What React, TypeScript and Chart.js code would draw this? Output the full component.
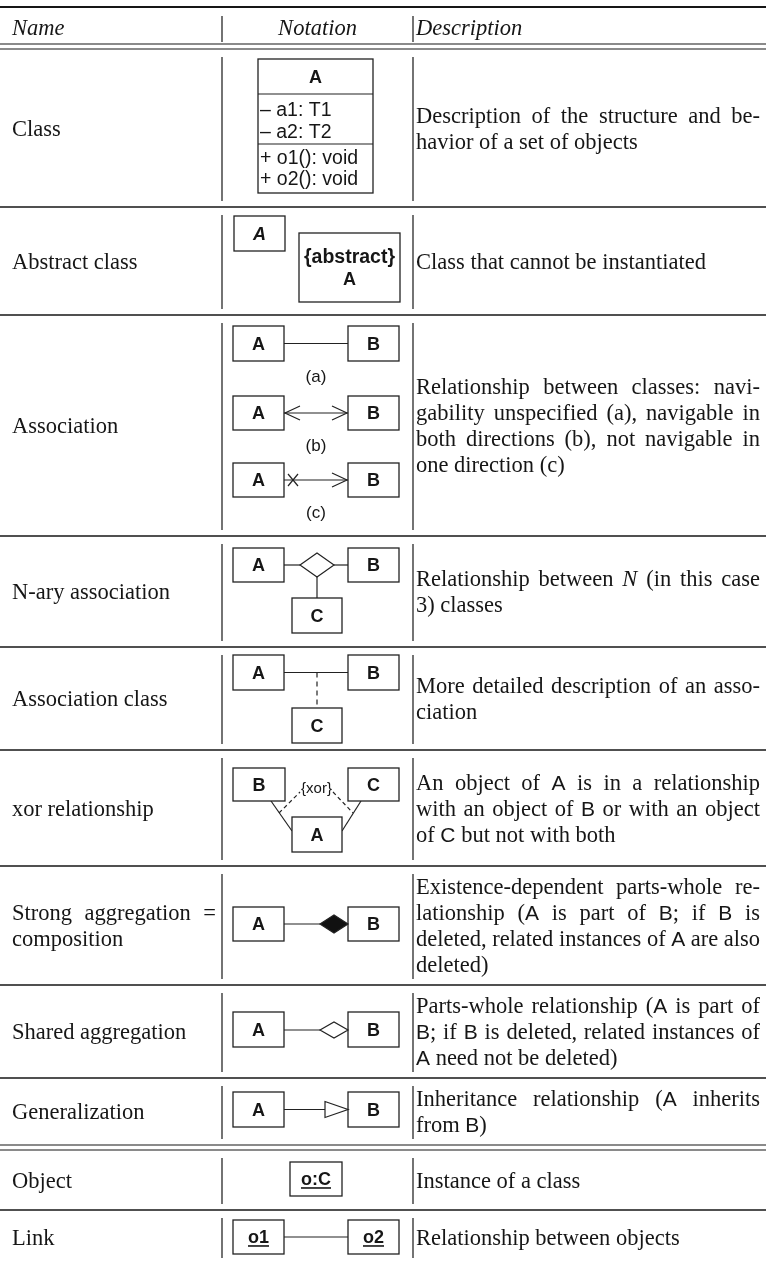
import React, { useEffect, useRef } from "react";
import { Chart, registerables } from "chart.js";

Chart.register(...registerables);

// ---------- DATA ----------
const headerLabels = ["Name", "Notation", "Description"];

const rowNames: string[][] = [
  ["Class"],
  ["Abstract class"],
  ["Association"],
  ["N-ary association"],
  ["Association class"],
  ["xor relationship"],
  ["Strong aggregation =", "composition"],
  ["Shared aggregation"],
  ["Generalization"],
  ["Object"],
  ["Link"],
];

// § ... § = sans-serif run, * ... * = italic run
const rowDescriptions: string[][] = [
  ["Description of the structure and be-", "havior of a set of objects"],
  ["Class that cannot be instantiated"],
  [
    "Relationship between classes: navi-",
    "gability unspecified (a), navigable in",
    "both directions (b), not navigable in",
    "one direction (c)",
  ],
  ["Relationship between *N* (in this case", "3) classes"],
  ["More detailed description of an asso-", "ciation"],
  [
    "An object of §A§ is in a relationship",
    "with an object of §B§ or with an object",
    "of §C§ but not with both",
  ],
  [
    "Existence-dependent parts-whole re-",
    "lationship (§A§ is part of §B§; if §B§ is",
    "deleted, related instances of §A§ are also",
    "deleted)",
  ],
  [
    "Parts-whole relationship (§A§ is part of",
    "§B§; if §B§ is deleted, related instances of",
    "§A§ need not be deleted)",
  ],
  ["Inheritance relationship (§A§ inherits", "from §B§)"],
  ["Instance of a class"],
  ["Relationship between objects"],
];

const classTitle = "A";
const classMembers = ["– a1: T1", "– a2: T2", "+ o1(): void", "+ o2(): void"];
const abstractLabels = ["A", "{abstract}", "A"];
const pairLabels = ["A", "B"];
const ternaryLabels = ["A", "B", "C"];
const xorBoxLabels = ["B", "C", "A"];
const associationVariants = ["(a)", "(b)", "(c)"];
const xorLabel = "{xor}";
const objectLabel = "o:C";
const linkLabels = ["o1", "o2"];

// ---------- LAYOUT ----------
const W = 766;
const H = 1264;
const COL_SPLIT = [222, 413];
const ROWS: [number, number][] = [
  [49, 207],
  [207, 315],
  [315, 536],
  [536, 647],
  [647, 750],
  [750, 866],
  [866, 985],
  [985, 1078],
  [1078, 1145],
  [1150, 1210],
  [1210, 1264],
];
const NAME_X = [12, 216];
const DESC_X = [416, 760];
const LINE_H = 26;
const SERIF_PX = 22.5;
const SANS_IN_TEXT_PX = 21;

const SERIF = "'Liberation Serif', 'Times New Roman', serif";
const SANS = "'Liberation Sans', Arial, Helvetica, sans-serif";
const INK = "#161616";

type Seg = { t: string; f: "serif" | "sans" | "ital" };

function parseWords(line: string): Seg[][] {
  const words: Seg[][] = [];
  let cur: Seg[] = [];
  let mode: Seg["f"] = "serif";
  let buf = "";
  const flush = () => {
    if (buf) {
      cur.push({ t: buf, f: mode });
      buf = "";
    }
  };
  for (const ch of line) {
    if (ch === "§") {
      flush();
      mode = mode === "sans" ? "serif" : "sans";
    } else if (ch === "*") {
      flush();
      mode = mode === "ital" ? "serif" : "ital";
    } else if (ch === " ") {
      flush();
      if (cur.length) {
        words.push(cur);
        cur = [];
      }
    } else buf += ch;
  }
  flush();
  if (cur.length) words.push(cur);
  return words;
}

const tablePlugin = {
  id: "umlTable",
  afterDraw(chart: any) {
    const ctx: CanvasRenderingContext2D = chart.ctx;
    const xs = chart.scales.x;
    const ys = chart.scales.y;
    const X = (v: number) => xs.getPixelForValue(v);
    const Y = (v: number) => ys.getPixelForValue(v);

    const fontOf = (f: Seg["f"]) =>
      f === "sans"
        ? `${SANS_IN_TEXT_PX}px ${SANS}`
        : f === "ital"
        ? `italic ${SERIF_PX}px ${SERIF}`
        : `${SERIF_PX}px ${SERIF}`;

    const mw = (t: string) => ctx.measureText(t).width;

    const hline = (y: number, w: number) => {
      ctx.save();
      ctx.strokeStyle = INK;
      ctx.lineWidth = w;
      ctx.beginPath();
      ctx.moveTo(X(0), Y(y));
      ctx.lineTo(X(W), Y(y));
      ctx.stroke();
      ctx.restore();
    };
    const vline = (x: number, y1: number, y2: number) => {
      ctx.save();
      ctx.strokeStyle = INK;
      ctx.lineWidth = 1.2;
      ctx.beginPath();
      ctx.moveTo(X(x), Y(y1));
      ctx.lineTo(X(x), Y(y2));
      ctx.stroke();
      ctx.restore();
    };
    const seg = (pts: number[][], dash?: number[]) => {
      ctx.save();
      ctx.strokeStyle = "#222";
      ctx.lineWidth = 1.2;
      if (dash) ctx.setLineDash(dash);
      ctx.beginPath();
      pts.forEach((p, i) => (i ? ctx.lineTo(X(p[0]), Y(p[1])) : ctx.moveTo(X(p[0]), Y(p[1]))));
      ctx.stroke();
      ctx.restore();
    };
    const poly = (pts: number[][], fill: string) => {
      ctx.save();
      ctx.strokeStyle = "#222";
      ctx.fillStyle = fill;
      ctx.lineWidth = 1.2;
      ctx.beginPath();
      pts.forEach((p, i) => (i ? ctx.lineTo(X(p[0]), Y(p[1])) : ctx.moveTo(X(p[0]), Y(p[1]))));
      ctx.closePath();
      ctx.fill();
      ctx.stroke();
      ctx.restore();
    };
    const label = (
      t: string,
      x: number,
      y: number,
      opts: { bold?: boolean; italic?: boolean; underline?: boolean; size?: number; align?: "left" | "center" } = {}
    ) => {
      ctx.save();
      const size = opts.size ?? 18;
      ctx.font = `${opts.italic ? "italic " : ""}${opts.bold ? "bold " : ""}${size}px ${SANS}`;
      ctx.fillStyle = INK;
      ctx.textAlign = "left";
      ctx.textBaseline = "alphabetic";
      const w = mw(t);
      const x0 = opts.align === "left" ? X(x) : X(x) - w / 2;
      const base = Y(y) + size * 0.36;
      ctx.fillText(t, x0, base);
      if (opts.underline) {
        ctx.strokeStyle = INK;
        ctx.lineWidth = 1.6;
        ctx.beginPath();
        ctx.moveTo(x0, base + 2.5);
        ctx.lineTo(x0 + w, base + 2.5);
        ctx.stroke();
      }
      ctx.restore();
    };
    const box = (x1: number, y1: number, x2: number, y2: number, t?: string, o: any = { bold: true }) => {
      ctx.save();
      ctx.fillStyle = "#fff";
      ctx.strokeStyle = "#222";
      ctx.lineWidth = 1.3;
      ctx.fillRect(X(x1), Y(y1), X(x2) - X(x1), Y(y2) - Y(y1));
      ctx.strokeRect(X(x1), Y(y1), X(x2) - X(x1), Y(y2) - Y(y1));
      ctx.restore();
      if (t) label(t, (x1 + x2) / 2, (y1 + y2) / 2, o);
    };
    const openArrow = (tx: number, ty: number, dir: number) => {
      seg([
        [tx - dir * 15, ty - 7],
        [tx, ty],
        [tx - dir * 15, ty + 7],
      ]);
    };

    const drawText = (lines: string[], x0: number, x1: number, cy: number, italicHeader = false) => {
      const n = lines.length;
      const start = cy - ((n - 1) * LINE_H) / 2;
      lines.forEach((line, li) => {
        const words = parseWords(line);
        const justify = li < n - 1;
        const widths = words.map((w) =>
          w.reduce((s, sg) => {
            ctx.font = italicHeader ? `italic ${SERIF_PX}px ${SERIF}` : fontOf(sg.f);
            return s + mw(sg.t);
          }, 0)
        );
        ctx.font = `${SERIF_PX}px ${SERIF}`;
        let gap = mw(" ");
        const total = widths.reduce((a, b) => a + b, 0);
        if (justify && words.length > 1) {
          gap = Math.max(2, (X(x1) - X(x0) - total) / (words.length - 1));
        }
        let x = X(x0);
        const base = Y(start + li * LINE_H) + 7.5;
        ctx.fillStyle = INK;
        ctx.textAlign = "left";
        ctx.textBaseline = "alphabetic";
        words.forEach((w, wi) => {
          w.forEach((sg) => {
            ctx.font = italicHeader ? `italic ${SERIF_PX}px ${SERIF}` : fontOf(sg.f);
            ctx.fillText(sg.t, x, base);
            x += mw(sg.t);
          });
          if (wi < words.length - 1) x += gap;
        });
      });
    };

    ctx.save();
    // ---- rules ----
    hline(7, 2);
    hline(44, 1.2);
    hline(49, 1.2);
    for (let i = 0; i < ROWS.length - 1; i++) {
      const b = ROWS[i][1];
      const nt = ROWS[i + 1][0];
      if (nt !== b) {
        hline(b, 1.2);
        hline(nt, 1.2);
      } else hline(b, 1.5);
    }

    // ---- header ----
    COL_SPLIT.forEach((c) => vline(c, 16, 42));
    drawText([headerLabels[0]], NAME_X[0], NAME_X[1], 27, true);
    ctx.font = `italic ${SERIF_PX}px ${SERIF}`;
    ctx.textAlign = "left";
    ctx.fillStyle = INK;
    const hw = mw(headerLabels[1]);
    ctx.fillText(headerLabels[1], X((COL_SPLIT[0] + COL_SPLIT[1]) / 2) - hw / 2, Y(27) + 7.5);
    drawText([headerLabels[2]], DESC_X[0], DESC_X[1], 27, true);

    // ---- rows ----
    ROWS.forEach(([t, b], i) => {
      COL_SPLIT.forEach((c) => vline(c, t + 8, b - 6));
      const cy = (t + b) / 2;
      drawText(rowNames[i], NAME_X[0], NAME_X[1], cy);
      drawText(rowDescriptions[i], DESC_X[0], DESC_X[1], cy);
    });

    // ---- notations ----
    // Class
    box(258, 59, 373, 193);
    seg([[258, 94], [373, 94]]);
    seg([[258, 144], [373, 144]]);
    label(classTitle, 315.5, 76.5, { bold: true });
    [109, 131, 157, 178].forEach((yy, k) => label(classMembers[k], 260, yy, { size: 19.5, align: "left" }));

    // Abstract class
    box(234, 216, 285, 251, abstractLabels[0], { bold: true, italic: true });
    box(299, 233, 400, 302);
    label(abstractLabels[1], 349.5, 256, { bold: true, size: 19.5 });
    label(abstractLabels[2], 349.5, 279, { bold: true });

    // Association (a), (b), (c)
    const assocRows = [
      [326, 361],
      [396, 430],
      [463, 497],
    ];
    assocRows.forEach(([y1, y2], k) => {
      const ym = (y1 + y2) / 2;
      box(233, y1, 284, y2, pairLabels[0]);
      box(348, y1, 399, y2, pairLabels[1]);
      seg([[284, ym], [348, ym]]);
      if (k === 1) {
        openArrow(285, ym, -1);
        openArrow(347, ym, 1);
      }
      if (k === 2) {
        openArrow(347, ym, 1);
        seg([[288, ym - 6], [298, ym + 6]]);
        seg([[288, ym + 6], [298, ym - 6]]);
      }
      label(associationVariants[k], 316, y2 + 15, { size: 17 });
    });

    // N-ary association
    box(233, 548, 284, 582, ternaryLabels[0]);
    box(348, 548, 399, 582, ternaryLabels[1]);
    seg([[284, 565], [300, 565]]);
    seg([[334, 565], [348, 565]]);
    poly([[300, 565], [317, 553], [334, 565], [317, 577]], "#fff");
    seg([[317, 577], [317, 598]]);
    box(292, 598, 342, 633, ternaryLabels[2]);

    // Association class
    box(233, 655, 284, 690, ternaryLabels[0]);
    box(348, 655, 399, 690, ternaryLabels[1]);
    seg([[284, 672.5], [348, 672.5]]);
    seg([[317, 672.5], [317, 708]], [5, 4]);
    box(292, 708, 342, 743, ternaryLabels[2]);

    // xor
    seg([[271, 801], [292, 831]]);
    seg([[361, 801], [342, 831]]);
    seg([[279, 813], [300, 792]], [4, 3]);
    seg([[333, 792], [353, 813]], [4, 3]);
    box(233, 768, 285, 801, xorBoxLabels[0]);
    box(348, 768, 399, 801, xorBoxLabels[1]);
    box(292, 817, 342, 852, xorBoxLabels[2]);
    label(xorLabel, 316.5, 788, { size: 15 });

    // Strong aggregation
    box(233, 907, 284, 941, pairLabels[0]);
    box(348, 907, 399, 941, pairLabels[1]);
    seg([[284, 924], [320, 924]]);
    poly([[320, 924], [334, 915], [348, 924], [334, 933]], "#111");

    // Shared aggregation
    box(233, 1012, 284, 1047, pairLabels[0]);
    box(348, 1012, 399, 1047, pairLabels[1]);
    seg([[284, 1030], [320, 1030]]);
    poly([[320, 1030], [334, 1022], [348, 1030], [334, 1038]], "#fff");

    // Generalization
    box(233, 1092, 284, 1127, pairLabels[0]);
    box(348, 1092, 399, 1127, pairLabels[1]);
    seg([[284, 1109.5], [325, 1109.5]]);
    poly([[325, 1101.5], [348, 1109.5], [325, 1117.5]], "#fff");

    // Object
    box(290, 1162, 342, 1196, objectLabel, { bold: true, underline: true });

    // Link
    box(233, 1220, 284, 1254, linkLabels[0], { bold: true, underline: true });
    box(348, 1220, 399, 1254, linkLabels[1], { bold: true, underline: true });
    seg([[284, 1237], [348, 1237]]);

    ctx.restore();
  },
};

export default function App() {
  const canvasRef = useRef<HTMLCanvasElement | null>(null);

  useEffect(() => {
    if (!canvasRef.current) return;
    const chart = new Chart(canvasRef.current, {
      type: "scatter",
      data: { datasets: [{ data: [], pointRadius: 0 }] },
      options: {
        animation: false,
        responsive: false,
        maintainAspectRatio: false,
        events: [],
        layout: { padding: 0 },
        plugins: { legend: { display: false }, tooltip: { enabled: false } },
        scales: {
          x: { type: "linear", min: 0, max: W, display: false },
          y: { type: "linear", min: 0, max: H, reverse: true, display: false },
        },
      },
      plugins: [tablePlugin],
    } as any);
    return () => chart.destroy();
  }, []);

  return (
    <div style={{ position: "absolute", left: 0, top: 0, width: W, height: H, background: "#fff" }}>
      <canvas ref={canvasRef} width={W} height={H} style={{ display: "block", width: W, height: H }} />
    </div>
  );
}
